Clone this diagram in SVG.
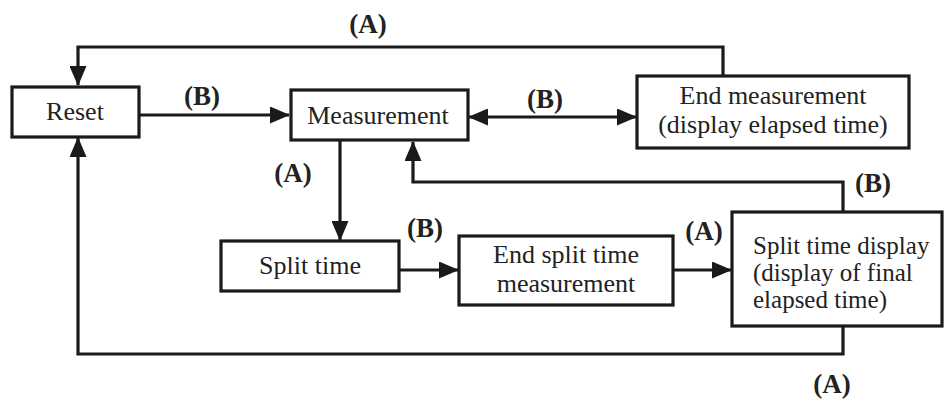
<svg xmlns="http://www.w3.org/2000/svg" width="945" height="402" viewBox="0 0 945 402">
<style>
.box{fill:#fff;stroke:#1a1a1a;stroke-width:3.2}
.t{font-family:"Liberation Serif","Times New Roman",serif;font-size:26px;fill:#222;text-anchor:middle}
.tl{text-anchor:start;font-size:25px}
.lb{font-family:"Liberation Serif","Times New Roman",serif;font-size:27px;font-weight:bold;fill:#222;text-anchor:middle}
.c{fill:none;stroke:#1a1a1a;stroke-width:3.2}
</style>
<defs>
<marker id="ah" markerUnits="userSpaceOnUse" markerWidth="20" markerHeight="17" refX="19" refY="8.5" orient="auto-start-reverse" viewBox="0 0 20 17">
<path d="M0,0 L20,8.5 L0,17 Z" fill="#1a1a1a"/>
</marker>
</defs>
<rect width="945" height="402" fill="#fff"/>
<g id="connectors">
<path class="c" d="M723,76 V47 H78 V85" marker-end="url(#ah)"/>
<path class="c" d="M139,115 H289" marker-end="url(#ah)"/>
<path class="c" d="M469,117 H636" marker-start="url(#ah)" marker-end="url(#ah)"/>
<path class="c" d="M340,141 V240" marker-end="url(#ah)"/>
<path class="c" d="M843,212 V182 H413 V142" marker-end="url(#ah)"/>
<path class="c" d="M399,270 H458" marker-end="url(#ah)"/>
<path class="c" d="M673,270 H731" marker-end="url(#ah)"/>
<path class="c" d="M843,326 V354 H78 V138" marker-end="url(#ah)"/>
<text class="lb" x="368" y="33">(A)</text>
<text class="lb" x="202" y="105">(B)</text>
<text class="lb" x="545" y="108">(B)</text>
<text class="lb" x="293" y="182">(A)</text>
<text class="lb" x="873" y="192">(B)</text>
<text class="lb" x="425" y="237">(B)</text>
<text class="lb" x="704" y="240">(A)</text>
<text class="lb" x="832" y="393">(A)</text>
</g>
<g id="reset">
<rect class="box" x="12" y="87" width="127" height="50"/>
<text class="t" x="75" y="120">Reset</text>
</g>
<g id="measurement">
<rect class="box" x="291" y="90" width="177" height="50"/>
<text class="t" x="378" y="124">Measurement</text>
</g>
<g id="end-measurement">
<rect class="box" x="637" y="76" width="272" height="72"/>
<text class="t" x="773" y="104">End measurement</text>
<text class="t" x="773" y="133">(display elapsed time)</text>
</g>
<g id="split-time">
<rect class="box" x="221" y="241" width="178" height="50"/>
<text class="t" x="310" y="274">Split time</text>
</g>
<g id="end-split">
<rect class="box" x="459" y="236" width="214" height="69"/>
<text class="t" x="566" y="263">End split time</text>
<text class="t" x="566" y="292">measurement</text>
</g>
<g id="split-display">
<rect class="box" x="732" y="212" width="210" height="114"/>
<text class="t tl" x="753" y="254">Split time display</text>
<text class="t tl" x="753" y="281">(display of final</text>
<text class="t tl" x="753" y="308">elapsed time)</text>
</g>
</svg>
